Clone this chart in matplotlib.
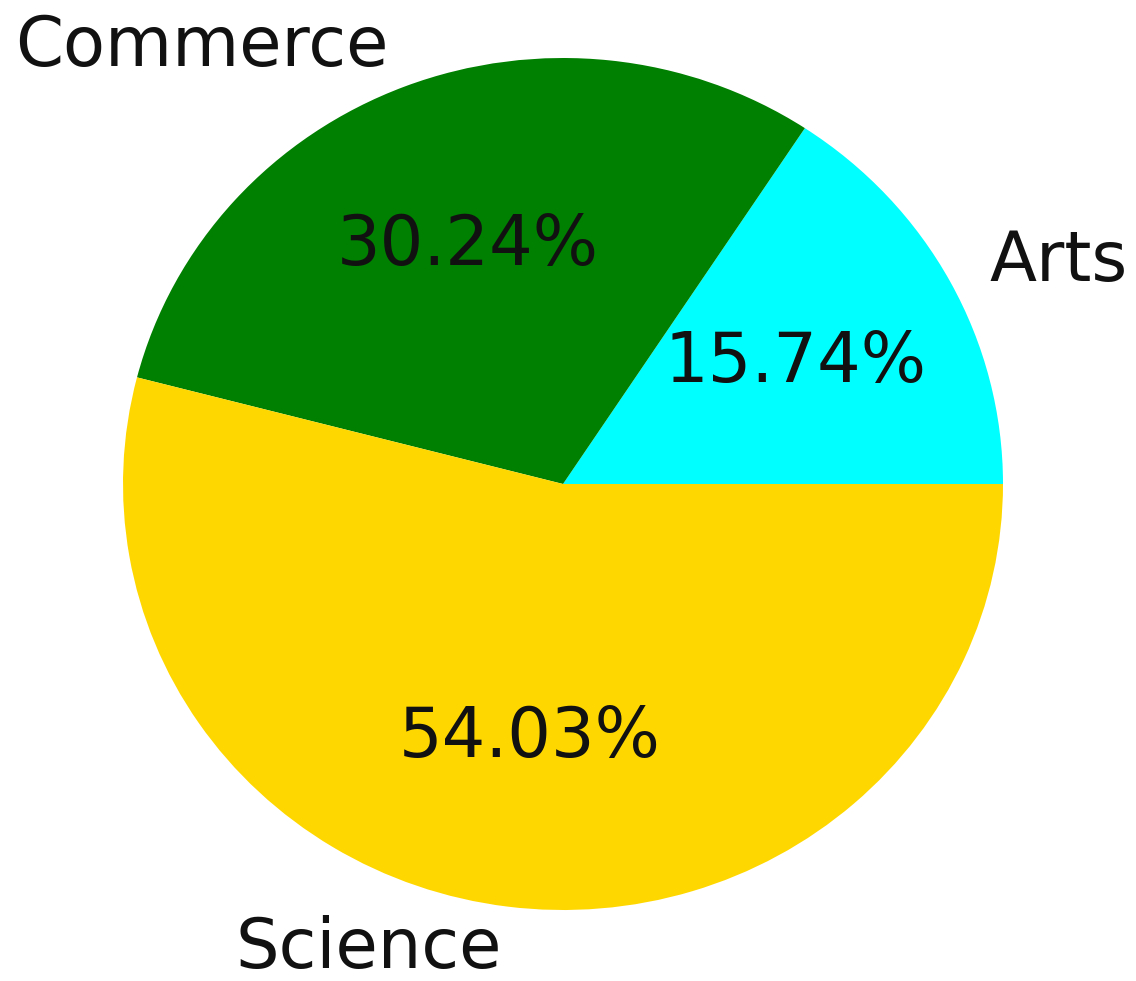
import matplotlib
matplotlib.use("Agg")
import matplotlib.pyplot as plt

# stream shares (%); chosen so the printed values round to 15.74 / 30.24 / 54.03
streams = ["Arts", "Commerce", "Science"]
shares = [15.737, 30.237, 54.026]
colors = ["cyan", "green", "gold"]

fig = plt.figure(figsize=(11.36, 9.81), dpi=100)
ax = fig.add_axes([0, 0, 1, 1])
ax.pie(shares, labels=streams, colors=colors, autopct="%.2f%%", startangle=0,
       textprops={"fontsize": 49.5, "color": "#111111"})
# reference is slightly squashed vertically, so map the unit circle by hand
ax.set_aspect("auto")
ax.set_xlim(-563 / 440, (1136 - 563) / 440)
ax.set_ylim(-(981 - 484) / 426, 484 / 426)
ax.axis("off")
fig.savefig("out.png", dpi=100)
